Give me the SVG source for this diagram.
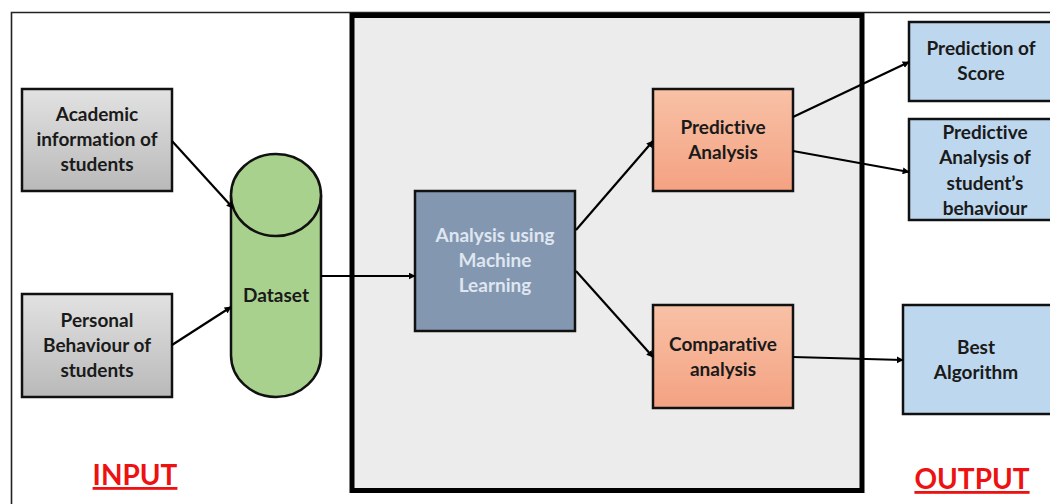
<svg xmlns="http://www.w3.org/2000/svg" width="1050" height="504" viewBox="0 0 1050 504">
  <defs>
    <linearGradient id="gGray" x1="0" y1="0" x2="0" y2="1">
      <stop offset="0" stop-color="#e2e2e2"/>
      <stop offset="1" stop-color="#b9b9b9"/>
    </linearGradient>
    <linearGradient id="gCoral" x1="0" y1="0" x2="0" y2="1">
      <stop offset="0" stop-color="#f8c1a6"/>
      <stop offset="1" stop-color="#f4a282"/>
    </linearGradient>
    <marker id="arrow" viewBox="0 0 10 10" refX="9" refY="5" markerWidth="7" markerHeight="7" markerUnits="userSpaceOnUse" orient="auto">
      <path d="M0,0 L10,5 L0,10 z" fill="#000"/>
    </marker>
    <style>
      .box { stroke: #111; stroke-width: 2.5; }
      .lbl { font-family: Lato, "Open Sans", "Liberation Sans", sans-serif; font-weight: bold; font-size: 19px; text-anchor: middle; fill: #1a1a1a; font-variant-ligatures: none; }
      .lbl-light { fill: #dfe6f0; }
      .conn { stroke: #000; stroke-width: 2.2; fill: none; marker-end: url(#arrow); }
      .tag { font-family: Lato, "Open Sans", "Liberation Sans", sans-serif; font-weight: bold; font-size: 28px; text-anchor: middle; fill: #ee1111; text-decoration: underline; }
    </style>
  </defs>

  <rect width="1050" height="504" fill="#ffffff"/>
  <!-- outer frame -->
  <path d="M11.5,504 V12.5 H1050" fill="none" stroke="#222" stroke-width="1.6"/>

  <!-- processing area -->
  <g id="processing-area">
    <rect x="352" y="15.5" width="510" height="475" fill="#ececec" stroke="#000" stroke-width="5"/>
  </g>

  <g id="academic-info">
    <rect class="box" x="22" y="89" width="150" height="102" fill="url(#gGray)"/>
    <text class="lbl" x="97" y="121">Academic</text>
    <text class="lbl" x="97" y="146">information of</text>
    <text class="lbl" x="97" y="171">students</text>
  </g>

  <g id="personal-behaviour">
    <rect class="box" x="22" y="294" width="150" height="103" fill="url(#gGray)"/>
    <text class="lbl" x="97" y="327">Personal</text>
    <text class="lbl" x="97" y="352">Behaviour of</text>
    <text class="lbl" x="97" y="377">students</text>
  </g>

  <g id="dataset">
    <path d="M231,195 V355 A45,42 0 0 0 321,355 V195" fill="#a9d18e" stroke="#111" stroke-width="2.5"/>
    <ellipse cx="276" cy="195" rx="45" ry="41" fill="#a9d18e" stroke="#111" stroke-width="2.5"/>
    <text class="lbl" x="276" y="302">Dataset</text>
  </g>

  <g id="ml-analysis">
    <rect class="box" x="415" y="191" width="160" height="140" fill="#8497b0"/>
    <text class="lbl lbl-light" x="495" y="242">Analysis using</text>
    <text class="lbl lbl-light" x="495" y="267">Machine</text>
    <text class="lbl lbl-light" x="495" y="292">Learning</text>
  </g>

  <g id="predictive-analysis">
    <rect class="box" x="653" y="89" width="140" height="102" fill="url(#gCoral)"/>
    <text class="lbl" x="723" y="134">Predictive</text>
    <text class="lbl" x="723" y="159">Analysis</text>
  </g>

  <g id="comparative-analysis">
    <rect class="box" x="653" y="305" width="140" height="103" fill="url(#gCoral)"/>
    <text class="lbl" x="723" y="351">Comparative</text>
    <text class="lbl" x="723" y="376">analysis</text>
  </g>

  <g id="prediction-score">
    <rect class="box" x="909" y="22" width="145" height="79" fill="#bdd7ee"/>
    <text class="lbl" x="981" y="55">Prediction of</text>
    <text class="lbl" x="981" y="80">Score</text>
  </g>

  <g id="behaviour-prediction">
    <rect class="box" x="909" y="119" width="145" height="101" fill="#bdd7ee"/>
    <text class="lbl" x="985" y="139">Predictive</text>
    <text class="lbl" x="985" y="164">Analysis of</text>
    <text class="lbl" x="985" y="190">student’s</text>
    <text class="lbl" x="985" y="215">behaviour</text>
  </g>

  <g id="best-algorithm">
    <rect class="box" x="903" y="305" width="151" height="109" fill="#bdd7ee"/>
    <text class="lbl" x="976" y="354">Best</text>
    <text class="lbl" x="976" y="379">Algorithm</text>
  </g>

  <g id="connectors">
    <line class="conn" x1="172" y1="141" x2="233" y2="208"/>
    <line class="conn" x1="172" y1="345" x2="231" y2="307"/>
    <line class="conn" x1="321" y1="276" x2="415" y2="276"/>
    <line class="conn" x1="576" y1="230" x2="653" y2="141"/>
    <line class="conn" x1="576" y1="271" x2="653" y2="357"/>
    <line class="conn" x1="793" y1="117" x2="909" y2="62"/>
    <line class="conn" x1="793" y1="151" x2="909" y2="172"/>
    <line class="conn" x1="793" y1="357" x2="903" y2="360"/>
  </g>

  <text class="tag" x="135" y="485">INPUT</text>
  <text class="tag" x="972" y="489">OUTPUT</text>
</svg>
